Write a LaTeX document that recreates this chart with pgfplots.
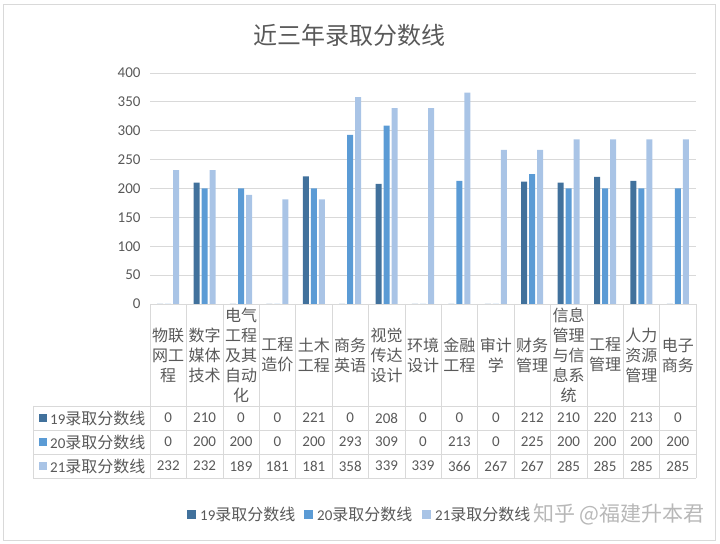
\documentclass[border=0pt]{standalone}
\usepackage{pgfplots}
\pgfplotsset{compat=1.18}
\usepackage{fontspec}
\setmainfont{Carlito}
\newfontfamily\cjk{Noto Sans CJK SC}
\definecolor{cA}{HTML}{41719C}
\definecolor{cB}{HTML}{5B9BD5}
\definecolor{cC}{HTML}{A9C4E6}
\definecolor{txt}{HTML}{595959}
\definecolor{grd}{HTML}{D9D9D9}
\newcommand\cj[1]{{\cjk\fontsize{16bp}{20bp}\selectfont #1}}
\begin{document}
\begin{tikzpicture}[x=1bp,y=1bp]
\useasboundingbox (0,0) rectangle (720,544);
\draw[grd] (3,4) rectangle (715,540);
\node[text=txt, font=\cjk\fontsize{24bp}{28bp}\selectfont] at (349,509) {近三年录取分数线};
\begin{axis}[at={(150bp,240bp)}, anchor=south west, scale only axis,
  width=546bp, height=231bp,
  xmin=-0.5, xmax=14.5, ymin=0, ymax=400,
  axis line style={draw=none},
  ytick={0,50,...,400}, ymajorgrids, grid style={grd, line width=0.8pt},
  major tick length=0,
  xtick={0,...,14},
  xticklabels={{物联\\网工\\程},{数字\\媒体\\技术},{电气\\工程\\及其\\自动\\化},{工程\\造价},{土木\\工程},{商务\\英语},{视觉\\传达\\设计},{环境\\设计},{金融\\工程},{审计\\学},{财务\\管理},{信息\\管理\\与信\\息系\\统},{工程\\管理},{人力\\资源\\管理},{电子\\商务}},
  xticklabel style={font=\cjk\fontsize{16bp}{20bp}\selectfont, align=center, anchor=center, yshift=-51bp, text=txt, inner sep=0pt},
  yticklabel style={font=\fontsize{15bp}{18bp}\selectfont, text=txt, xshift=-6bp},
  /pgf/number format/assume math mode=true,
  ybar, bar width=0.165,
  every axis plot/.append style={draw=none},
  clip=false]
\addplot[fill=cA, draw=none, bar shift=-0.22] coordinates {(0,0) (1,210) (2,0) (3,0) (4,221) (5,0) (6,208) (7,0) (8,0) (9,0) (10,212) (11,210) (12,220) (13,213) (14,0)};
\addplot[fill=cB, draw=none, bar shift=0] coordinates {(0,0) (1,200) (2,200) (3,0) (4,200) (5,293) (6,309) (7,0) (8,213) (9,0) (10,225) (11,200) (12,200) (13,200) (14,200)};
\addplot[fill=cC, draw=none, bar shift=0.22] coordinates {(0,232) (1,232) (2,189) (3,181) (4,181) (5,358) (6,339) (7,339) (8,366) (9,267) (10,267) (11,285) (12,285) (13,285) (14,285)};
\end{axis}
% data table grid
\foreach \yy in {138,114,90,66} \draw[grd] (33,\yy) -- (696,\yy);
\draw[grd] (33,138) -- (33,66);
\foreach \k in {0,...,15} \draw[grd] ({150+36.4*\k},240) -- ({150+36.4*\k},66);
% row labels
\fill[cA] (39,122) rectangle (47,130);
\node[anchor=west, text=txt, font=\fontsize{15bp}{18bp}\selectfont, inner sep=0pt] at (50,126) {19\cj{录取分数线}};
\fill[cB] (39,98) rectangle (47,106);
\node[anchor=west, text=txt, font=\fontsize{15bp}{18bp}\selectfont, inner sep=0pt] at (50,102) {20\cj{录取分数线}};
\fill[cC] (39,74) rectangle (47,82);
\node[anchor=west, text=txt, font=\fontsize{15bp}{18bp}\selectfont, inner sep=0pt] at (50,78) {21\cj{录取分数线}};
% table values
\foreach \v [count=\i from 0] in {0,210,0,0,221,0,208,0,0,0,212,210,220,213,0}
  \node[text=txt, font=\fontsize{15bp}{18bp}\selectfont] at ({168.2+36.4*\i},126) {\v};
\foreach \v [count=\i from 0] in {0,200,200,0,200,293,309,0,213,0,225,200,200,200,200}
  \node[text=txt, font=\fontsize{15bp}{18bp}\selectfont] at ({168.2+36.4*\i},102) {\v};
\foreach \v [count=\i from 0] in {232,232,189,181,181,358,339,339,366,267,267,285,285,285,285}
  \node[text=txt, font=\fontsize{15bp}{18bp}\selectfont] at ({168.2+36.4*\i},78) {\v};
% legend
\fill[cA] (187,25) rectangle (196,34);
\node[anchor=west, text=txt, font=\fontsize{15bp}{18bp}\selectfont, inner sep=0pt] at (200,29.5) {19\cj{录取分数线}};
\fill[cB] (304,25) rectangle (313,34);
\node[anchor=west, text=txt, font=\fontsize{15bp}{18bp}\selectfont, inner sep=0pt] at (317,29.5) {20\cj{录取分数线}};
\fill[cC] (422,25) rectangle (431,34);
\node[anchor=west, text=txt, font=\fontsize{15bp}{18bp}\selectfont, inner sep=0pt] at (435,29.5) {21\cj{录取分数线}};
% watermark
\node[anchor=west, text=black!28, font=\cjk\fontsize{21bp}{24bp}\selectfont, inner sep=0pt] at (533,29.5) {知乎 @福建升本君};
\end{tikzpicture}
\end{document}
